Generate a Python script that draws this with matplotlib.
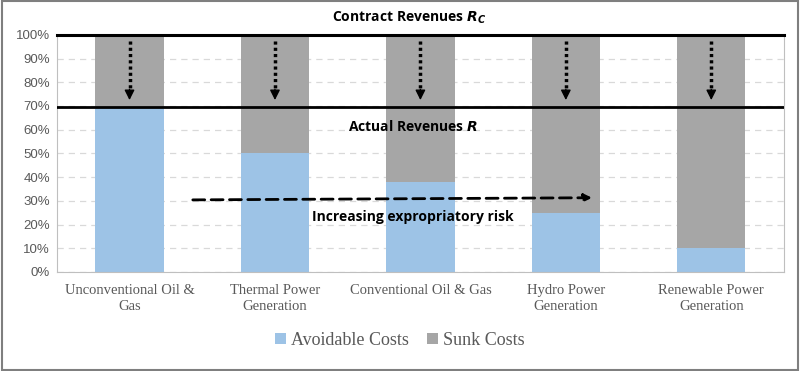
import matplotlib
matplotlib.use('Agg')
from matplotlib import pyplot as plt
from matplotlib.patches import Rectangle
import numpy as np

# data
categories = ["Unconventional Oil &\nGas", "Thermal Power\nGeneration",
              "Conventional Oil & Gas", "Hydro Power\nGeneration",
              "Renewable Power\nGeneration"]
avoidable = [69, 50, 38, 25, 10]
sunk = [100 - a for a in avoidable]
contract_rev = 100
actual_rev = 69.5

BLUE = '#9DC3E6'
GRAY = '#A6A6A6'
TXT = '#595959'

fig = plt.figure(figsize=(8, 3.71), dpi=100)
ax = fig.add_axes([0.071, 0.267, 0.909, 0.639])

x = np.arange(len(categories))
ax.bar(x, avoidable, 0.47, color=BLUE, label='Avoidable Costs', zorder=2)
ax.bar(x, sunk, 0.47, bottom=avoidable, color=GRAY, label='Sunk Costs', zorder=2)

ax.set_xlim(-0.5, len(categories) - 0.5)
ax.set_ylim(0, 100)
ax.set_yticks(np.arange(0, 101, 10))
ax.set_yticklabels([str(v) + '%' for v in range(0, 101, 10)],
                   fontsize=9.5, color=TXT, family='Liberation Sans')
ax.set_xticks(x)
ax.set_xticklabels(categories, family='Liberation Serif', fontsize=10.5, color=TXT,
                   linespacing=1.3)
ax.tick_params(axis='y', length=0, pad=5)
ax.tick_params(axis='x', length=0, pad=9)
ax.yaxis.grid(True, color='#D9D9D9', linestyle=(0, (5, 4)), lw=0.9, zorder=0)
for s in ax.spines.values():
    s.set_color('#BFBFBF')

# revenue lines
ax.axhline(contract_rev, color='black', lw=2.2, zorder=4, clip_on=False)
ax.axhline(actual_rev, color='black', lw=2, zorder=4)

bold = dict(family='Open Sans', fontweight='bold', fontsize=10, color='black')
ax.text(0.485, 1.07, r'Contract Revenues $\mathbfit{R_C}$', transform=ax.transAxes,
        ha='center', va='center', **bold)
ax.text(1.95, 61.5, r'Actual Revenues $\mathbfit{R}$', ha='center', va='center', **bold)
ax.text(1.95, 23.0, 'Increasing expropriatory risk', ha='center', va='center', **bold)

# dotted arrows from contract to actual revenue
for xi in x:
    ax.plot([xi, xi], [97.5, 76], color='black', lw=2.5,
            linestyle=(0, (0.9, 0.9)), zorder=5)
    ax.annotate('', xy=(xi, 72.5), xytext=(xi, 77),
                arrowprops=dict(arrowstyle='-|>,head_width=0.3,head_length=0.6',
                                lw=1, color='black', shrinkA=0, shrinkB=0), zorder=5)
# dashed arrow across
ax.annotate('', xy=(3.18, 31.3), xytext=(0.435, 30.4),
            arrowprops=dict(arrowstyle='-|>,head_width=0.22,head_length=0.45',
                            linestyle=(0, (4.3, 2.3)), lw=2, color='black',
                            shrinkA=0, shrinkB=0), zorder=5)

leg = fig.legend(loc='center', bbox_to_anchor=(0.5, 0.083), ncol=2, frameon=False,
                 prop={'family': 'Liberation Serif', 'size': 13},
                 handlelength=0.6, handleheight=0.6, handletextpad=0.3, columnspacing=1.0)
for t in leg.get_texts():
    t.set_color(TXT)

fig.patches.append(Rectangle((0.002, 0.003), 0.996, 0.994, transform=fig.transFigure,
                             fill=False, edgecolor='#7F7F7F', lw=1.5))

fig.savefig('out.png', dpi=100)
